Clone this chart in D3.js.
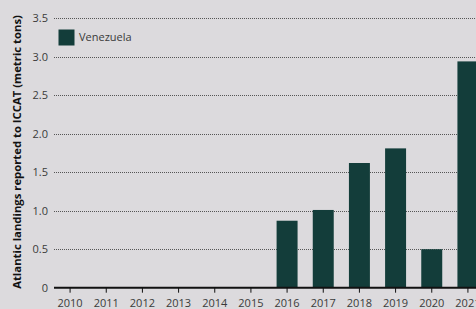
<!DOCTYPE html>
<html><head><meta charset="utf-8">
<script src="https://cdn.jsdelivr.net/npm/d3@7"></script>
<style>
html,body{margin:0;padding:0;background:#dcdadd;overflow:hidden;}
text{font-family:"Open Sans","DejaVu Sans",sans-serif;}
</style></head>
<body><svg id="c" width="476" height="309"></svg>
<script>
const years = ["2010","2011","2012","2013","2014","2015","2016","2017","2018","2019","2020","2021"];
const values = [0,0,0,0,0,0,0.87,1.01,1.62,1.81,0.50,2.94];
const yTicks = [0,0.5,1.0,1.5,2.0,2.5,3.0,3.5];
const yTickLabels = ["0","0.5","1.0","1.5","2.0","2.5","3.0","3.5"];
const seriesName = "Venezuela";
const yTitle = "Atlantic landings reported to ICCAT (metric tons)";

const svg = d3.select("#c");
svg.append("rect").attr("width",476).attr("height",309).attr("fill","#dcdadd");

const x = d3.scaleBand().domain(years).range([52,486]).paddingInner(0.42).paddingOuter(0.21);
const y = d3.scaleLinear().domain([0,3.5]).range([287.7,18.3]);

// gridlines
svg.append("g").selectAll("line").data(yTicks.filter(d=>d>0)).join("line")
  .attr("x1",54).attr("x2",476)
  .attr("y1",d=>Math.round(y(d))+0.5).attr("y2",d=>Math.round(y(d))+0.5)
  .attr("stroke","#555").attr("stroke-width",1).attr("stroke-dasharray","1,1");

// y tick labels
svg.append("g").selectAll("text").data(yTicks).join("text")
  .attr("x",48).attr("y",d=>y(d)).attr("dy","0.35em")
  .attr("text-anchor","end").attr("font-size",11).attr("fill","#3a3a3a")
  .text((d,i)=>yTickLabels[i]);

// bars
svg.append("g").selectAll("rect").data(years).join("rect")
  .attr("x",d=>x(d)).attr("width",x.bandwidth())
  .attr("y",(d,i)=>y(values[i])).attr("height",(d,i)=>y(0)-y(values[i]))
  .attr("fill","#133d3a");

// baseline
svg.append("line").attr("x1",54).attr("x2",476).attr("y1",y(0)).attr("y2",y(0))
  .attr("stroke","#111").attr("stroke-width",2);

// x ticks
const xg = svg.append("g");
xg.selectAll("line").data(years).join("line")
  .attr("x1",d=>x(d)+x.bandwidth()/2).attr("x2",d=>x(d)+x.bandwidth()/2)
  .attr("y1",y(0)).attr("y2",y(0)+5).attr("stroke","#111").attr("stroke-width",1);
xg.selectAll("text").data(years).join("text")
  .attr("x",d=>x(d)+x.bandwidth()/2).attr("y",307)
  .attr("text-anchor","middle").attr("font-size",11).attr("fill","#3a3a3a")
  .text(d=>d);

// y title
svg.append("text").attr("transform","translate(21,152) rotate(-90)")
  .attr("text-anchor","middle").attr("font-size",11.3).attr("font-weight","bold")
  .attr("font-family","'Liberation Sans',Arial,sans-serif")
  .attr("fill","#111").text(yTitle);

// legend
svg.append("rect").attr("x",58.5).attr("y",29.5).attr("width",16).attr("height",16).attr("fill","#133d3a");
svg.append("text").attr("x",79).attr("y",37.5).attr("dy","0.35em")
  .attr("font-size",11).attr("fill","#3a3a3a").text(seriesName);
</script></body></html>
